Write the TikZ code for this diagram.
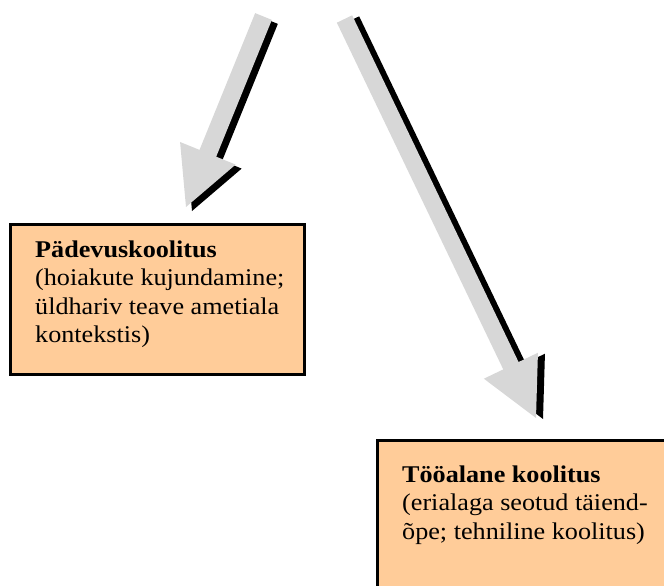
\documentclass[tikz,border=0pt]{standalone}
\usepackage{fontspec}
\setmainfont{Liberation Serif}[FakeStretch=1.09]
\usepackage{tikz}
\usetikzlibrary{calc,positioning}
\definecolor{arrowgray}{RGB}{215,215,215}
\definecolor{boxorange}{RGB}{255,204,153}
\tikzset{arrowbody/.style={fill=arrowgray,preaction={fill=black,transform canvas={shift={#1}}}},
    boxcell/.style={draw,line width=2.5pt,fill=boxorange,rectangle,anchor=north west,inner sep=0},
    boxtext/.style={anchor=base west,align=left,inner sep=0,font=\fontsize{24}{28.5}\selectfont}}

\begin{document}
\begin{tikzpicture}[x=1pt,y=-1pt]

\clip (0,0) rectangle (664,586);

\newcommand\fatarrow[4]
{
    \coordinate (#2base) at ($(#2)!58pt!(#1)$);
    \path [arrowbody={#4}] ($(#1)!#3!90:(#2)$) -- ($(#2base)!#3!90:(#2)$)
        -- ($(#2base)!30pt!90:(#2)$) -- (#2)
        -- ($(#2base)!30pt!-90:(#2)$) -- ($(#2base)!#3!-90:(#2)$)
        -- ($(#1)!#3!-90:(#2)$) -- cycle;
}

\coordinate (tail1) at (263.5,16.5);
\coordinate (tip1) at (186,207);
\coordinate (tail2) at (344.5,19);
\coordinate (tip2) at (536,418);

\fatarrow{tail1}{tip1}{9pt}{(6pt,-4pt)}
\fatarrow{tail2}{tip2}{8.5pt}{(7pt,-1pt)}

\node (padevus) [boxcell,minimum width=294pt,minimum height=150pt] at (9,223) {};
\node (tooalane) [boxcell,minimum width=320pt,minimum height=170pt] at (376,439) {};

% base anchor sits on the last line
\node (padevustext) [boxtext] at (35,342.5) {\textbf{Pädevuskoolitus}\\(hoiakute kujundamine;\\üldhariv teave ametiala\\kontekstis)};
\node (tooalanetext) [boxtext] at (402,539) {\textbf{Tööalane koolitus}\\(erialaga seotud täiend-\\õpe; tehniline koolitus)};

\end{tikzpicture}
\end{document}
